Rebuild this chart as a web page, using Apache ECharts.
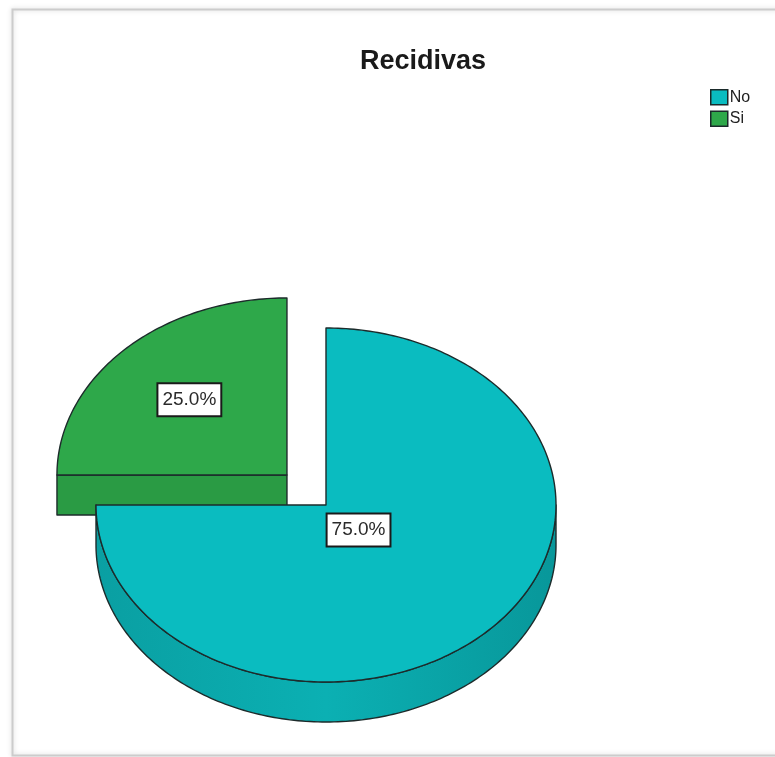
<!DOCTYPE html>
<html>
<head>
<meta charset="utf-8">
<script src="https://cdn.jsdelivr.net/npm/echarts@6/dist/echarts.min.js"></script>
<style>
  html, body { margin: 0; padding: 0; background: #ffffff; }
  #chart { width: 775px; height: 757px; }
</style>
</head>
<body>
<div id="chart"></div>
<script>
// Recidivas: frequency split shown as a tilted 3D pie
const categories = ['No', 'Si'];
const values = [75, 25];

const total = values.reduce((a, b) => a + b, 0);

// Appearance
const topColors  = ['#0abcc0', '#2ea84a'];
const wallColors = ['#0aa6a9', '#2a9b44'];
const rimStops   = [
  [{ offset: 0, color: '#0a9fa2' }, { offset: 0.5, color: '#0bb0b3' }, { offset: 1, color: '#08979a' }],
  [{ offset: 0, color: '#27923f' }, { offset: 0.5, color: '#2ba247' }, { offset: 1, color: '#25903d' }]
];
const explodeBy  = categories.map(c => (c === 'Si' ? 0.24 : 0));
const OUTLINE = '#1d2b2b';

// Pie geometry (screen pixels): centre, ellipse radii, thickness
const CX = 326, CY = 505, RX = 230, RY = 177, DEPTH = 40;

function pointAt(cx, cy, deg) {
  const r = deg * Math.PI / 180;
  return [cx + RX * Math.sin(r), cy - RY * Math.cos(r)];
}

function arcPoints(cx, cy, a, b, dy) {
  const pts = [];
  const n = Math.max(2, Math.ceil(Math.abs(b - a)));
  for (let k = 0; k <= n; k++) {
    const p = pointAt(cx, cy, a + (b - a) * k / n);
    pts.push([p[0], p[1] + dy]);
  }
  return pts;
}

function makeRenderer(i) {
  return function (params, api) {
    const v = api.value(0);
    let start = 0;
    for (let j = 0; j < i; j++) start += values[j] / total * 360;
    const sweep = v / total * 360;
    const end = start + sweep;
    const midRad = (start + sweep / 2) * Math.PI / 180;

    const cx = CX + RX * explodeBy[i] * Math.sin(midRad);
    const cy = CY - RY * explodeBy[i] * Math.cos(midRad);

    const line = { stroke: OUTLINE, lineWidth: 1.4, lineJoin: 'round' };
    const children = [];

    // Radial cut faces that turn toward the viewer
    [[start, start - 90], [end, end + 90]].forEach(([a, normal]) => {
      if (Math.cos(normal * Math.PI / 180) < -1e-6) {
        const e = pointAt(cx, cy, a);
        children.push({
          type: 'polygon',
          shape: { points: [[cx, cy], e, [e[0], e[1] + DEPTH], [cx, cy + DEPTH]] },
          style: Object.assign({ fill: wallColors[i] }, line)
        });
      }
    });

    // Curved outer rim on the front half
    const s = Math.max(start, 90), t = Math.min(end, 270);
    if (t > s) {
      const pts = arcPoints(cx, cy, s, t, 0).concat(arcPoints(cx, cy, t, s, DEPTH));
      children.push({
        type: 'polygon',
        shape: { points: pts },
        style: Object.assign({ fill: new echarts.graphic.LinearGradient(0, 0, 1, 0, rimStops[i]) }, line)
      });
    }

    // Top face
    children.push({
      type: 'polygon',
      shape: { points: [[cx, cy]].concat(arcPoints(cx, cy, start, end, 0)) },
      style: Object.assign({ fill: topColors[i] }, line)
    });

    // Percentage label at the sector centroid
    const alpha = sweep * Math.PI / 180;
    const k = 4 * Math.sin(alpha / 2) / (3 * alpha);
    const lx = cx + RX * k * Math.sin(midRad);
    const ly = cy - RY * k * Math.cos(midRad);
    children.push({
      type: 'text',
      x: lx, y: ly,
      style: {
        text: (v / total * 100).toFixed(1) + '%',
        fill: '#2a2a2a',
        font: '19px "Liberation Sans", Arial, sans-serif',
        align: 'center',
        verticalAlign: 'middle',
        lineHeight: 20,
        backgroundColor: '#ffffff',
        borderColor: '#1a1a1a',
        borderWidth: 2,
        padding: [6, 4, 5, 4]
      }
    });

    return { type: 'group', children: children };
  };
}

// Exploded slices are drawn first so the main body sits in front of them
const order = categories.map((c, i) => i).sort((a, b) => explodeBy[b] - explodeBy[a]);

const chart = echarts.init(document.getElementById('chart'), null, { renderer: 'canvas' });
chart.setOption({
  backgroundColor: '#ffffff',
  animation: false,
  title: {
    text: 'Recidivas',
    left: 355,
    top: 43,
    textStyle: {
      fontFamily: '"Liberation Sans", Arial, sans-serif',
      fontSize: 27,
      fontWeight: 'bold',
      color: '#1a1a1a'
    }
  },
  legend: {
    data: categories,
    orient: 'vertical',
    left: 705,
    top: 84,
    icon: 'rect',
    itemWidth: 17,
    itemHeight: 15,
    itemGap: 5,
    selectedMode: false,
    itemStyle: { borderColor: '#1a2a2a', borderWidth: 1.5 },
    textStyle: {
      fontFamily: '"Liberation Sans", Arial, sans-serif',
      fontSize: 16,
      color: '#222222',
      padding: [0, 0, 0, -3]
    }
  },
  graphic: [{
    type: 'rect',
    z: -10,
    silent: true,
    shape: { x: 12.5, y: 9.5, width: 800, height: 746 },
    style: {
      fill: 'none',
      stroke: '#cccccc',
      lineWidth: 2,
      shadowBlur: 5,
      shadowColor: 'rgba(0,0,0,0.18)'
    }
  }],
  series: order.map(i => ({
    type: 'custom',
    name: categories[i],
    coordinateSystem: 'none',
    silent: true,
    itemStyle: { color: topColors[i] },
    data: [[values[i]]],
    renderItem: makeRenderer(i)
  }))
});
</script>
</body>
</html>
